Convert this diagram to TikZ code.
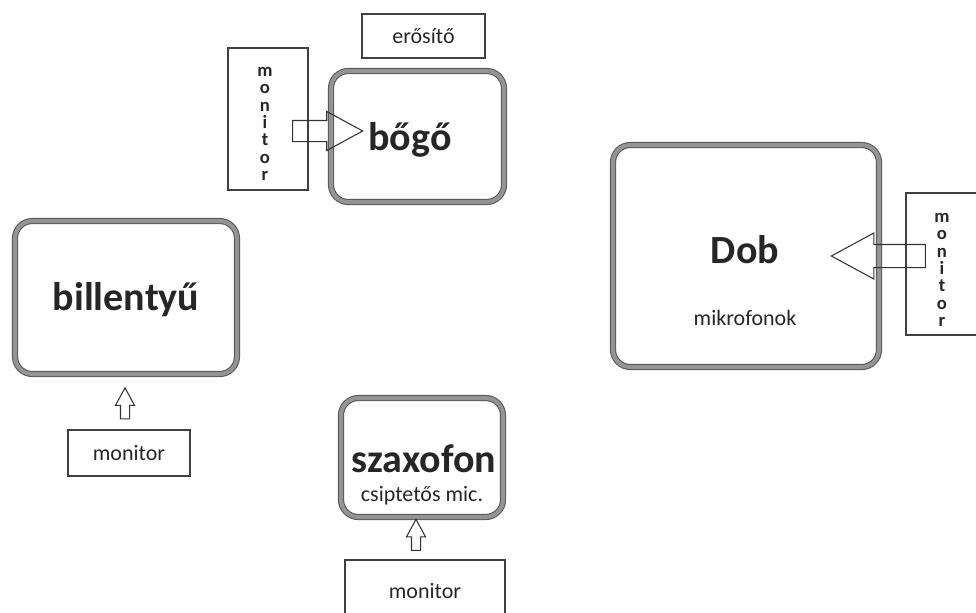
\documentclass[tikz,border=0pt]{standalone}
\usepackage{fontspec}
\setmainfont{Carlito}
\usetikzlibrary{shapes.arrows}

\def\px{0.75pt}
\tikzset{
  hangszer/.style={draw=black!65, double=black!42, double distance=3pt, line width=0.8pt,
    rounded corners=13pt, fill=white, inner sep=0pt},
  doboz/.style={draw=black!75, line width=0.9pt, inner sep=0pt, text=black!85},
  nagy/.style={font=\fontsize{30}{34}\selectfont\bfseries, text=black!85},
  kicsi/.style={font=\fontsize{16.5}{19}\selectfont, text=black!85},
  fuggo/.style={align=center, font=\fontsize{14}{13}\selectfont\bfseries, text=black!85},
  nyil/.style={single arrow, draw=black!80, line width=0.8pt,
    single arrow tip angle=57},
}

\begin{document}
\begin{tikzpicture}[x=\px, y=-\px]
  \useasboundingbox (0,0) rectangle (976,612);

  % hangszerek
  \node[hangszer, minimum width=173*\px, minimum height=131*\px] (bogo) at (417.5,136.5) {};
  \node[nagy] at (410,140) {bőgő};
  \node[hangszer, minimum width=266*\px, minimum height=222*\px] (dob) at (746,256) {};
  \node[nagy] at (745,250) {Dob};
  \node[kicsi] at (745,318) {mikrofonok};
  \node[hangszer, minimum width=222*\px, minimum height=153*\px] (bill) at (126,297.5) {};
  \node[nagy] at (126,300) {billentyű};
  \node[hangszer, minimum width=162*\px, minimum height=119*\px] (szax) at (422,457.5) {};
  \node[nagy] at (424,459) {szaxofon};
  \node[kicsi] at (422,496) {csiptetős mic.};

  % erosito, monitorok
  \node[doboz, kicsi, minimum width=123*\px, minimum height=44*\px] (erosito) at (423.5,36) {erősítő};
  \node[doboz, minimum width=80*\px, minimum height=142*\px] (monA) at (268,119) {};
  \node[fuggo] at (265,124) {m\\o\\n\\i\\t\\o\\r};
  \node[doboz, minimum width=80*\px, minimum height=142*\px] (monB) at (946,264) {};
  \node[fuggo] at (942,270) {m\\o\\n\\i\\t\\o\\r};
  \node[doboz, kicsi, minimum width=122*\px, minimum height=46*\px] (monC) at (129,453) {monitor};
  \node[doboz, kicsi, minimum width=160*\px, minimum height=62*\px] (monD) at (425,591) {monitor};

  % nyilak
  \node[nyil, minimum height=70*\px, inner sep=10*\px, single arrow head extend=9*\px] (n1) at (318,131) {};
  \node[nyil, minimum height=94*\px, inner sep=11*\px, single arrow head extend=11.5*\px,
    shape border rotate=180] (n2) at (889,256) {};
  \node[nyil, minimum height=31*\px, inner sep=4*\px, single arrow head extend=5*\px,
    shape border rotate=90] (n3) at (125,407.5) {};
  \node[nyil, minimum height=31*\px, inner sep=4*\px, single arrow head extend=5*\px,
    shape border rotate=90] (n4) at (416,539) {};
\end{tikzpicture}
\end{document}
